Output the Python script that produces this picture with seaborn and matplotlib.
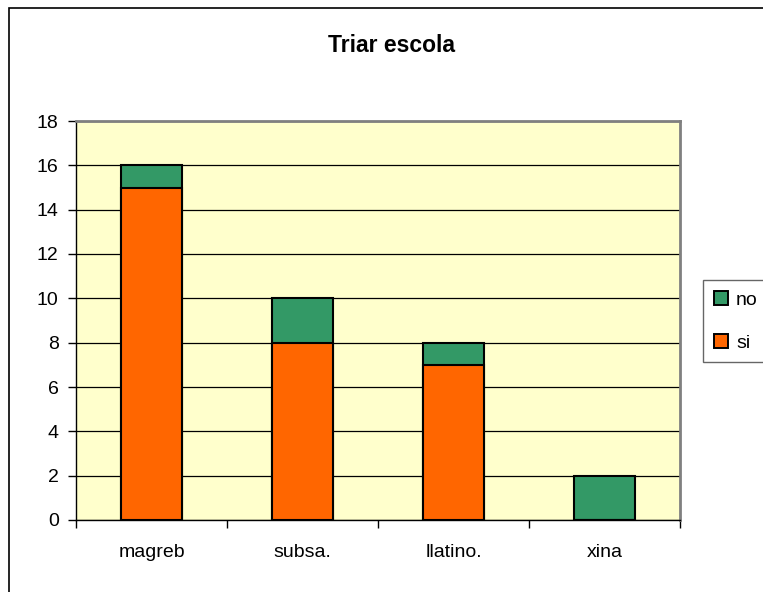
import matplotlib
matplotlib.use('Agg')
import matplotlib.pyplot as plt
from matplotlib.patches import Patch, Rectangle
import pandas as pd
import seaborn as sns

# Chart data
categories = ['magreb', 'subsa.', 'llatino.', 'xina']
si_values = [15, 8, 7, 0]
no_values = [1, 2, 1, 2]
y_ticks = [0, 2, 4, 6, 8, 10, 12, 14, 16, 18]

orange = '#FF6600'
green = '#339966'
bg = '#FFFFCC'

sns.set_style('white')
plt.rcParams['font.family'] = ['Liberation Sans', 'DejaVu Sans']
plt.rcParams['text.color'] = 'black'
plt.rcParams['xtick.color'] = 'black'
plt.rcParams['ytick.color'] = 'black'
plt.rcParams['xtick.labelcolor'] = 'black'
plt.rcParams['ytick.labelcolor'] = 'black'

df = pd.DataFrame({'cat': categories, 'si': si_values, 'no': no_values})
df['total'] = df['si'] + df['no']

fig = plt.figure(figsize=(7.63, 5.92), dpi=100)
W, H = 763, 592
ax = fig.add_axes([76 / W, 1 - 520 / H, (680 - 76) / W, (520 - 121) / H])
ax.set_facecolor(bg)

# stacked: full total in green, si drawn over it in orange
sns.barplot(data=df, x='cat', y='total', color=green, width=0.4,
            edgecolor='black', linewidth=1.5, saturation=1, ax=ax, zorder=3)
sns.barplot(data=df, x='cat', y='si', color=orange, width=0.4,
            edgecolor='black', linewidth=1.5, saturation=1, ax=ax, zorder=4)

ax.set_xlim(-0.5, len(categories) - 0.5)
ax.set_ylim(0, 18)
ax.set_yticks(y_ticks)
ax.set_yticklabels([str(v) for v in y_ticks], fontsize=14)
ax.set_xlabel('')
ax.set_ylabel('')

# gridlines
ax.yaxis.grid(True, color='black', linewidth=0.9, zorder=1)
ax.set_axisbelow(True)

# category labels with ticks at boundaries (Excel style)
ax.set_xticks([i + 0.5 for i in range(-1, len(categories))], minor=False)
ax.set_xticklabels([''] * (len(categories) + 1))
ax.set_xticks(range(len(categories)), minor=True)
ax.set_xticklabels(categories, minor=True, fontsize=14)
ax.tick_params(axis='x', which='minor', length=0, pad=17)
ax.tick_params(axis='x', which='major', direction='out', length=6, width=1, color='black', bottom=True)
ax.tick_params(axis='y', direction='out', length=5.5, width=1, color='black', left=True, pad=7)

for side in ['top', 'right']:
    ax.spines[side].set_color('#808080')
    ax.spines[side].set_linewidth(2)
for side in ['left', 'bottom']:
    ax.spines[side].set_color('black')
    ax.spines[side].set_linewidth(1)

fig.text(391 / W, 1 - 45 / H, 'Triar escola', ha='center', va='center',
         fontsize=16.5, fontweight='bold')

handles = [Patch(facecolor=green, edgecolor='black', linewidth=1.4, label='no'),
           Patch(facecolor=orange, edgecolor='black', linewidth=1.4, label='si')]
leg = fig.legend(handles=handles, loc='upper left', bbox_to_anchor=(703 / W, 1 - 280 / H),
                 fontsize=14, frameon=True, fancybox=False, handlelength=0.75,
                 handleheight=0.75, handletextpad=0.4, labelspacing=1.3,
                 borderpad=0.55, borderaxespad=0)
leg.get_frame().set_edgecolor('#404040')
leg.get_frame().set_linewidth(1)

# outer chart border
fig.patches.append(Rectangle((9 / W, -0.1), 1.2, 1 - 8 / H + 0.1, transform=fig.transFigure,
                             fill=False, edgecolor='black', linewidth=1.2))

fig.savefig('out.png', dpi=100)
